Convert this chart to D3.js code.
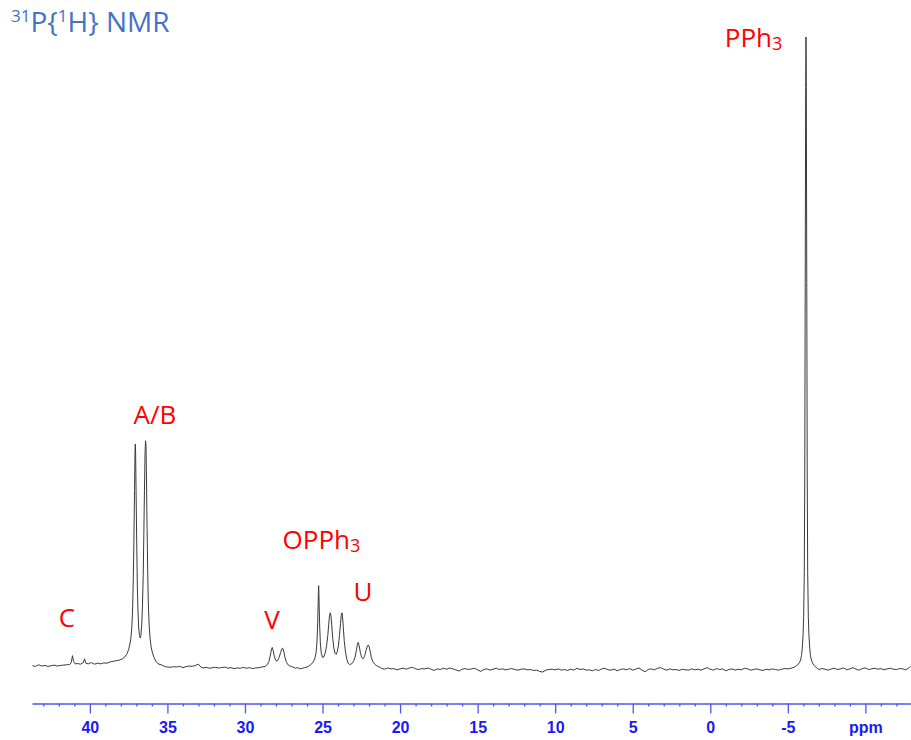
<!DOCTYPE html>
<html>
<head>
<meta charset="utf-8">
<script src="https://cdn.jsdelivr.net/npm/d3@7"></script>
<style>
  body { margin: 0; background: #fff; }
  svg { display: block; }
</style>
</head>
<body>
<script>
document.addEventListener("DOMContentLoaded", function(){
  // Set constants
  var width = 911;
  var height = 740;

  // spectrum: [ppm, intensity], PPh3 top = 100
  var spectrum = [
    [43.7,0.2],[43.5,0.1],[43.3,0.35],[43.1,0.15],[42.9,0.25],[42.7,0.1],[42.5,0.2],[42.3,0.3],[42.1,0.15],[41.9,0.25],
    [41.7,0.3],[41.5,0.35],[41.3,0.4],[41.2,0.7],[41.12,1.8],[41.05,0.9],[40.95,0.5],[40.8,0.55],[40.6,0.45],
    [40.42,0.7],[40.34,1.3],[40.26,0.6],[40.1,0.5],[39.9,0.7],[39.7,0.45],[39.5,0.6],[39.3,0.5],[39.1,0.65],[38.9,0.6],
    [38.7,0.8],[38.5,0.9],[38.3,1.0],[38.1,1.1],[37.9,1.3],[37.75,1.6],[37.6,2.1],[37.5,2.8],[37.42,3.6],[37.35,4.6],
    [37.29,6.5],[37.24,9.5],[37.2,14],[37.16,20],[37.12,28],[37.09,34],[37.07,35.4],[37.05,34],[37.02,28],[36.98,20],
    [36.94,13],[36.9,9],[36.85,6.2],[36.8,5],[36.75,4.6],[36.71,5],[36.66,6.5],[36.61,9.5],[36.56,14.5],[36.52,21],
    [36.48,28],[36.44,34],[36.41,35.9],[36.38,35],[36.35,30],[36.31,22],[36.27,15],[36.23,10],[36.18,6.8],[36.12,4.6],
    [36.05,3.2],[35.96,2.2],[35.86,1.5],[35.74,0.9],[35.6,0.5],[35.4,0.35],[35.2,0.1],[35.0,0.0],[34.8,-0.05],[34.6,0.05],
    [34.4,0.0],[34.2,0.1],[34.0,-0.1],[33.8,0.05],[33.6,0.15],[33.4,0.1],[33.2,0.25],[33.0,0.45],[32.85,0.0],[32.7,-0.15],
    [32.5,-0.05],[32.3,-0.2],[32.1,-0.1],[31.9,-0.05],[31.7,-0.15],[31.5,-0.1],[31.3,0.0],[31.1,-0.2],[30.9,-0.1],
    [30.7,-0.25],[30.5,-0.15],[30.3,-0.2],[30.1,-0.05],[29.9,-0.2],[29.7,-0.1],[29.5,-0.25],[29.3,-0.15],[29.1,-0.1],
    [28.9,0.0],[28.7,0.1],[28.55,0.4],[28.45,0.9],[28.37,1.8],[28.3,2.7],[28.24,3.1],[28.18,2.6],[28.1,1.6],[28.0,1.0],
    [27.9,1.0],[27.8,1.5],[27.7,2.3],[27.62,2.9],[27.57,3.0],[27.5,2.5],[27.42,1.5],[27.32,0.7],[27.2,0.3],[27.05,0.1],
    [26.9,0.0],[26.75,-0.2],[26.6,-0.1],[26.45,-0.3],[26.3,-0.2],[26.15,-0.1],[26.0,0.0],[25.85,0.2],[25.7,0.5],
    [25.6,0.8],[25.5,1.3],[25.42,2.2],[25.36,3.8],[25.31,7],[25.27,11.5],[25.25,12.9],[25.23,11.5],[25.19,7],[25.14,3.8],
    [25.08,2.2],[25.0,1.5],[24.92,1.6],[24.82,2.3],[24.74,3.3],[24.66,5],[24.6,6.8],[24.55,8.1],[24.5,8.6],[24.45,8.0],
    [24.4,6.5],[24.34,4.5],[24.27,3.0],[24.2,2.2],[24.12,2.0],[24.05,2.4],[23.97,3.5],[23.9,5.2],[23.84,6.9],[23.79,8.2],
    [23.75,8.6],[23.71,8.0],[23.66,6.3],[23.6,4.2],[23.52,2.4],[23.43,1.2],[23.35,0.6],[23.25,0.4],[23.12,0.5],[23.0,0.9],
    [22.9,1.6],[22.82,2.6],[22.76,3.5],[22.7,3.9],[22.64,3.4],[22.56,2.3],[22.48,1.5],[22.38,1.3],[22.28,1.8],[22.2,2.6],
    [22.12,3.2],[22.06,3.5],[22.0,3.3],[21.93,2.5],[21.85,1.5],[21.75,0.8],[21.62,0.4],[21.5,0.2],[21.35,0.0],
    [21.2,-0.2],[21.0,-0.35],[20.8,-0.15],[20.6,-0.3],[20.4,-0.25],[20.2,-0.45],[20.0,-0.3],[19.8,-0.2],[19.6,-0.35],
    [19.4,-0.15],[19.2,-0.05],[19.0,-0.3],[18.8,-0.4],[18.6,-0.25],[18.4,-0.3],[18.2,-0.15],[18.0,-0.35],[17.8,-0.55],
    [17.6,-0.3],[17.4,-0.4],[17.2,-0.2],[17.0,-0.35],[16.8,-0.15],[16.6,-0.3],[16.4,-0.45],[16.2,-0.65],[16.0,-0.35],
    [15.8,-0.25],[15.6,-0.4],[15.4,-0.3],[15.2,-0.2],[15.0,-0.45],[14.8,-0.7],[14.6,-0.4],[14.4,-0.3],[14.2,-0.5],
    [14.0,-0.35],[13.8,-0.2],[13.6,-0.4],[13.4,-0.3],[13.2,-0.45],[13.0,-0.35],[12.8,-0.25],[12.6,-0.4],[12.4,-0.5],
    [12.2,-0.35],[12.0,-0.3],[11.8,-0.45],[11.6,-0.4],[11.4,-0.55],[11.2,-0.5],[11.0,-0.7],[10.8,-0.8],[10.6,-0.5],
    [10.4,-0.4],[10.2,-0.35],[10.0,-0.45],[9.8,-0.3],[9.6,-0.5],[9.4,-0.4],[9.2,-0.55],[9.0,-0.35],[8.8,-0.5],[8.6,-0.2],
    [8.4,-0.4],[8.2,-0.3],[8.0,-0.5],[7.8,-0.45],[7.6,-0.6],[7.4,-0.4],[7.2,-0.55],[7.0,-0.3],[6.8,-0.2],[6.6,-0.45],
    [6.4,-0.5],[6.2,-0.35],[6.0,-0.6],[5.8,-0.4],[5.6,-0.3],[5.4,-0.45],[5.2,-0.25],[5.0,-0.5],[4.8,-0.35],[4.6,-0.15],
    [4.4,-0.5],[4.2,-0.75],[4.0,-0.4],[3.8,-0.3],[3.6,-0.45],[3.4,-0.2],[3.2,-0.1],[3.0,-0.35],[2.8,-0.5],[2.6,-0.3],
    [2.4,-0.45],[2.2,-0.4],[2.0,-0.55],[1.8,-0.35],[1.6,-0.45],[1.4,-0.5],[1.2,-0.3],[1.0,-0.45],[0.8,-0.35],[0.6,-0.5],
    [0.4,-0.3],[0.2,-0.1],[0.0,-0.35],[-0.2,-0.5],[-0.4,-0.25],[-0.6,-0.4],[-0.8,-0.3],[-1.0,-0.6],[-1.2,-0.4],
    [-1.4,-0.3],[-1.6,-0.5],[-1.8,-0.35],[-2.0,-0.45],[-2.2,-0.2],[-2.4,-0.3],[-2.6,-0.5],[-2.8,-0.4],[-3.0,-0.3],
    [-3.2,-0.45],[-3.4,-0.55],[-3.6,-0.35],[-3.8,-0.45],[-4.0,-0.3],[-4.2,-0.4],[-4.4,-0.5],[-4.6,-0.35],[-4.8,-0.25],
    [-5.0,-0.3],[-5.2,-0.2],[-5.4,-0.05],[-5.55,0.2],[-5.65,0.4],[-5.75,0.7],[-5.82,1.1],[-5.88,1.8],[-5.93,3.0],
    [-5.98,5],[-6.02,8],[-6.06,15],[-6.09,30],[-6.12,61],[-6.15,92],[-6.17,100],[-6.19,92],[-6.22,61],[-6.25,30],
    [-6.28,15],[-6.32,8],[-6.36,5],[-6.41,3.0],[-6.46,1.8],[-6.52,1.1],[-6.6,0.6],[-6.7,0.2],[-6.85,-0.1],
    [-7.0,-0.4],[-7.2,-0.25],[-7.4,-0.35],[-7.6,-0.5],[-7.8,-0.3],[-8.0,-0.2],[-8.2,-0.4],[-8.4,-0.3],[-8.6,-0.15],
    [-8.8,-0.45],[-9.0,-0.3],[-9.2,-0.1],[-9.4,-0.35],[-9.6,-0.5],[-9.8,-0.25],[-10.0,-0.15],[-10.2,-0.4],[-10.4,-0.3],
    [-10.6,-0.2],[-10.8,-0.35],[-11.0,-0.25],[-11.2,-0.45],[-11.4,-0.3],[-11.6,-0.2],[-11.8,-0.35],[-12.0,-0.4],
    [-12.2,-0.25],[-12.4,-0.3],[-12.6,-0.45],[-12.8,-0.15],[-12.9,0.1]
  ];

  // axis ticks
  var majorTicks = [40, 35, 30, 25, 20, 15, 10, 5, 0, -5, -10];
  var tickLabels = ["40", "35", "30", "25", "20", "15", "10", "5", "0", "-5", "ppm"];
  var minorTicks = d3.range(43, -13, -1).filter(function(d) { return d % 5 !== 0; });

  // peak labels: name, sub, ppm centre, intensity of text baseline
  var labelNames = ["C", "A/B", "V", "OPPh", "U", "PPh"];
  var labelSubs  = ["", "", "", "3", "", "3"];
  var labelPpm   = [41.48, 35.8, 28.25, 25.07, 22.39, -2.79];
  var labelLevel = [6.3, 38.6, 6.0, 18.7, 10.5, 98.4];

  var svg = d3.select("body").append("svg")
              .attr("width", width)
              .attr("height", height);

  var xScale = d3.scaleLinear().domain([43.73, -12.94]).range([32, 911]);
  var yScale = d3.scaleLinear().domain([0, 100]).range([667, 37]);

  // spectrum line
  var line = d3.line()
    .x(function(d) { return xScale(d[0]); })
    .y(function(d) { return yScale(d[1]); });

  svg.append("path")
    .datum(spectrum)
    .attr("d", line)
    .attr("fill", "none")
    .attr("stroke", "#3a3a3a")
    .attr("stroke-width", 1)
    .attr("stroke-linejoin", "round");

  // axes
  var axisY = 703.5;
  var minorAxis = d3.axisBottom(xScale).tickValues(minorTicks).tickSize(3).tickSizeOuter(0).tickFormat("");
  var majorAxis = d3.axisBottom(xScale).tickValues(majorTicks).tickSize(10).tickSizeOuter(0)
    .tickFormat(function(d, i) { return tickLabels[i]; });

  var gMinor = svg.append("g").attr("transform", "translate(0," + axisY + ")").call(minorAxis);
  var gMajor = svg.append("g").attr("transform", "translate(0," + axisY + ")").call(majorAxis);
  gMinor.select(".domain").remove();
  [gMinor, gMajor].forEach(function(g) {
    g.selectAll("line").attr("stroke", "#5252f5").attr("stroke-width", 1.3);
  });
  gMajor.select(".domain").attr("stroke", "#5252f5").attr("stroke-width", 1.5);
  gMajor.selectAll("text")
    .attr("y", 18)
    .attr("dy", "0.71em")
    .attr("fill", "#1a1af5")
    .style("font-family", "'Liberation Sans', Arial, sans-serif")
    .style("font-weight", "bold")
    .style("font-size", "16px");

  // title
  var title = svg.append("text")
    .attr("x", 11).attr("y", 32)
    .attr("fill", "#4472c4")
    .style("font-family", "'Open Sans', sans-serif")
    .style("font-size", "28px");
  title.append("tspan").text("31").style("font-size", "17px").attr("dy", -10);
  title.append("tspan").text("P{").attr("dy", 10);
  title.append("tspan").text("1").style("font-size", "17px").attr("dy", -10);
  title.append("tspan").text("H} NMR").attr("dy", 10);

  // peak labels
  labelNames.forEach(function(name, i) {
    var t = svg.append("text")
      .attr("x", xScale(labelPpm[i]))
      .attr("y", yScale(labelLevel[i]))
      .attr("text-anchor", "middle")
      .attr("fill", "#ff0000")
      .style("font-family", "'Open Sans', sans-serif")
      .style("font-size", "26px");
    t.append("tspan").text(name);
    if (labelSubs[i]) {
      t.append("tspan").text(labelSubs[i]).style("font-size", "18px").attr("dy", 3);
    }
  });

}); // End DOMContentLoaded
</script>
</body>
</html>
